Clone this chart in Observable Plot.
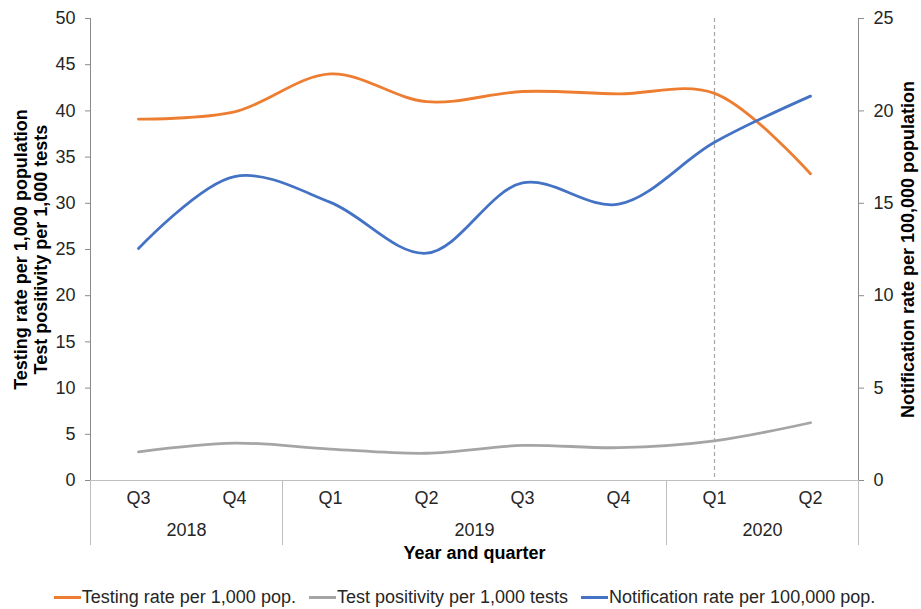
<!DOCTYPE html>
<html><head><meta charset="utf-8">
<script src="https://cdn.jsdelivr.net/npm/d3@7"></script>
<script src="https://cdn.jsdelivr.net/npm/@observablehq/plot@0.6"></script>
<style>
body{margin:0;background:#fff;font-family:"Liberation Sans",Arial,sans-serif;}
#legend{display:flex;justify-content:center;gap:13px;font-size:18px;color:#262626;height:24px;line-height:24px;padding-left:8px}
.item{display:flex;align-items:center;white-space:nowrap}
.sw{width:27px;height:3px;margin-right:1px}
</style></head><body>
<div id="chart"></div><div id="legend"></div>
<script>
const years = ["2018","2018","2019","2019","2019","2019","2020","2020"];
const quarters = ["Q3","Q4","Q1","Q2","Q3","Q4","Q1","Q2"];
const testingRate = [39.1, 39.9, 44.0, 41.0, 42.1, 41.85, 41.9, 33.2];
const testPositivity = [3.1, 4.05, 3.4, 2.95, 3.8, 3.55, 4.3, 6.25];
const notificationRate = [12.55, 16.45, 15.05, 12.3, 16.1, 14.95, 18.3, 20.8];
const leftTicks = [0, 5, 10, 15, 20, 25, 30, 35, 40, 45, 50];
const rightTicks = [0, 5, 10, 15, 20, 25];
const markerYear = "2020", markerQuarter = "Q1";
const seriesNames = ["Testing rate per 1,000 pop.", "Test positivity per 1,000 tests", "Notification rate per 100,000 pop."];
const seriesColors = ["#ED7D31", "#A5A5A5", "#4472C4"];
const leftTitle = "Testing rate per 1,000 population\nTest positivity per 1,000 tests";
const rightTitle = "Notification rate per 100,000 population";
const xTitle = "Year and quarter";

const leftMax = d3.max(leftTicks), rightMax = d3.max(rightTicks);
const factor = leftMax / rightMax;
const idx = d3.range(quarters.length);
const rows = [
  ...idx.map(i => ({i, s: seriesNames[0], v: testingRate[i]})),
  ...idx.map(i => ({i, s: seriesNames[1], v: testPositivity[i]})),
  ...idx.map(i => ({i, s: seriesNames[2], v: notificationRate[i] * factor}))
];
const groups = d3.groups(idx, i => years[i]).map(([y, is]) => ({year: y, c: d3.mean(is), lo: d3.min(is) - 0.5, hi: d3.max(is) + 0.5}));
const bounds = Array.from(new Set(groups.flatMap(g => [g.lo, g.hi])));
const markerIdx = idx.find(i => years[i] === markerYear && quarters[i] === markerQuarter);
const xMid = (idx[0] + idx[idx.length - 1]) / 2;
const axisGray = "#8a8a8a", lightGray = "#bfbfbf", textCol = "#262626";

const chart = Plot.plot({
  width: 921, height: 585,
  marginLeft: 90, marginRight: 63, marginTop: 18, marginBottom: 105,
  style: {fontFamily: "Liberation Sans, Arial, sans-serif", fontSize: "18px", color: textCol, background: "white"},
  x: {type: "linear", domain: [idx[0] - 0.5, idx[idx.length - 1] + 0.5], axis: null},
  y: {domain: [0, leftMax], axis: null},
  color: {domain: seriesNames, range: seriesColors},
  marks: [
    Plot.ruleX([markerIdx], {stroke: "#a6a6a6", strokeDasharray: "4,3", strokeWidth: 1.2}),
    Plot.ruleX(bounds, {x: d => d, stroke: lightGray, insetTop: 462, insetBottom: -65}),
    Plot.ruleY([0], {stroke: lightGray, strokeWidth: 1.2, insetLeft: -5, insetRight: -5}),
    Plot.ruleX([bounds[0]], {stroke: axisGray}),
    Plot.ruleX([bounds[bounds.length - 1]], {stroke: axisGray}),
    Plot.axisY(leftTicks, {anchor: "left", tickSize: 5, tickPadding: 10, stroke: axisGray, fill: textCol, fontSize: 18, label: null}),
    Plot.axisY(rightTicks.map(v => v * factor), {anchor: "right", tickSize: 5, tickPadding: 10, tickFormat: d => d / factor, stroke: axisGray, fill: textCol, fontSize: 18, label: null}),
    Plot.line(rows, {x: "i", y: "v", z: "s", stroke: d => d.s, strokeWidth: 2.8, curve: "catmull-rom"}),
    Plot.text(idx, {x: d => d, text: d => quarters[d], frameAnchor: "bottom", dy: 23, fontSize: 18, fill: textCol}),
    Plot.text(groups, {x: "c", text: "year", frameAnchor: "bottom", dy: 55, fontSize: 18, fill: textCol}),
    Plot.text([xTitle], {x: () => xMid, text: d => d, frameAnchor: "bottom", dy: 78, fontSize: 18, fontWeight: "bold", fill: "#000"}),
    Plot.text([leftTitle], {text: d => d, frameAnchor: "left", textAnchor: "middle", lineAnchor: "middle", rotate: -90, dx: -60, lineHeight: 1.1, fontSize: 18, fontWeight: "bold", fill: "#000"}),
    Plot.text([rightTitle], {text: d => d, frameAnchor: "right", textAnchor: "middle", lineAnchor: "middle", rotate: -90, dx: 50, fontSize: 18, fontWeight: "bold", fill: "#000"})
  ]
});
document.getElementById("chart").appendChild(chart);

const legend = d3.select("#legend");
seriesNames.forEach((n, k) => {
  const it = legend.append("div").attr("class", "item");
  it.append("div").attr("class", "sw").style("background", seriesColors[k]);
  it.append("span").text(n);
});
</script>
</body></html>
